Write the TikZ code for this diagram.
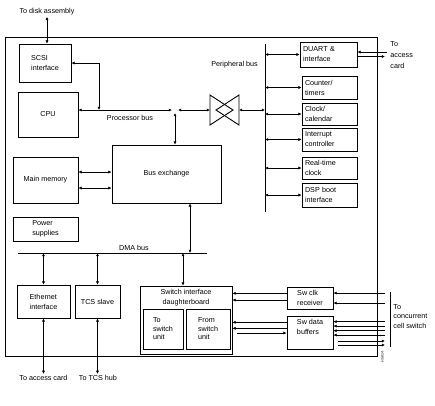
\documentclass[tikz,border=0pt]{standalone}
\usepackage{fontspec}
\setmainfont{Liberation Sans}
\usetikzlibrary{arrows.meta}

\begin{document}
\begin{tikzpicture}[
  x=1pt,y=-1pt,
  line width=0.9pt,
  every node/.style={font=\fontsize{7.2}{10}\selectfont, inner sep=1pt},
  box/.style={draw, align=left, inner sep=2pt},
  pbox/.style={draw, align=left, inner sep=3pt, text width=49pt},
  arr/.style={-{Latex[length=3.2pt,width=3.2pt]}},
  darr/.style={{Latex[length=3.2pt,width=3.2pt]}-{Latex[length=3.2pt,width=3.2pt]}}
]
\useasboundingbox (0,0) rectangle (435,405);
\draw (5,37) rectangle (377,356);

\node[box, minimum width=52pt, minimum height=38pt] (scsi) at (45,63) {SCSI\\interface};
\node[box, minimum width=60pt, minimum height=45pt] (cpu) at (48,114.5) {CPU};
\node[box, minimum width=65pt, minimum height=46pt] (mem) at (45.5,180) {Main memory};
\node[box, minimum width=65pt, minimum height=24pt] (pwr) at (45.5,229) {Power\\supplies};
\node[box, minimum width=109pt, minimum height=58pt] (bx) at (166.5,174) {Bus exchange};
\node[box, minimum width=53pt, minimum height=33pt] (eth) at (43.5,301.5) {Ethernet\\interface};
\node[box, minimum width=45pt, minimum height=33pt] (tcs) at (97.5,301.5) {TCS slave};
\node[draw, minimum width=92pt, minimum height=68pt,
  label={[align=center, anchor=north, yshift=-2pt]north:{Switch interface\\daughterboard}}] (swi) at (186,320) {};
\node[box, minimum width=40pt, minimum height=40pt, font=\fontsize{7.2}{8.5}\selectfont] (tsu) at (163,329) {To\\switch\\unit};
\node[box, minimum width=44pt, minimum height=40pt, font=\fontsize{7.2}{8.5}\selectfont] (fsu) at (208,329) {From\\switch\\unit};
\node[box, minimum width=46pt, minimum height=22pt] (clk) at (310,298) {Sw clk\\receiver};
\node[draw, minimum width=46pt, minimum height=33pt,
  label={[align=left, anchor=north, yshift=-2pt]north:{Sw data\\buffers}}] (dbuf) at (310,332.5) {};

\node[pbox, text width=51pt, minimum height=25pt] (duart) at (328.5,54.5) {DUART \&\\interface};
\node[pbox, minimum height=23pt] (cnt) at (329.5,87.5) {Counter/\\timers};
\node[pbox, minimum height=22pt] (cal) at (329.5,114) {Clock/\\calendar};
\node[pbox, minimum height=23pt] (irq) at (329.5,139.5) {Interrupt\\controller};
\node[pbox, minimum height=22pt] (rtc) at (329.5,168) {Real-time\\clock};
\node[pbox, minimum height=24pt] (dsp) at (329.5,195) {DSP boot\\interface};

\node (disktxt) at (47,12) {To disk assembly};
\node (pbuslbl) at (130,118) {Processor bus};
\node (perlbl) at (234.5,65) {Peripheral bus};
\node (dmalbl) at (134,248) {DMA bus};
\node (acc) at (43.5,378) {To access card};
\node (hub) at (98,378) {To TCS hub};
\node[anchor=north west, align=left, font=\fontsize{7.2}{11}\selectfont] (acctxt) at (389,40) {To\\access\\card};
\node[anchor=north west, align=left, font=\fontsize{7.2}{9.5}\selectfont] (ccs) at (392,303) {To\\concurrent\\cell switch};
\node[rotate=90, font=\fontsize{3.5}{4}\selectfont] (figid) at (382.5,357) {H5814};

\coordinate (jn) at (175,110);
\coordinate (pbj) at (99,110);
\coordinate (bowL) at (210,110);
\coordinate (bowR) at (239,110);
\coordinate (perT) at (265,44);
\coordinate (perB) at (265,212);
\coordinate (dmaL) at (18,253);
\coordinate (dmaR) at (207,253);
\coordinate (ext) at (385,0);
\coordinate (barT) at (390,292);
\coordinate (barB) at (390,347);

% processor side
\draw[darr] (disktxt.south) -- (disktxt.south |- scsi.north);
\draw[darr] (scsi.east) -| (pbj);
\draw[darr] (cpu.east |- jn) -- ([xshift=-3pt]jn);
\draw[darr] ([xshift=3pt]jn) -- (bowL);
\draw[darr] ([yshift=-3pt]jn) -- (jn |- bx.north);
\draw (210,95) -- (233,110) -- (210,125) -- cycle;
\draw (239,95) -- (216,110) -- (239,125) -- cycle;
\draw[darr] (bowR) -- (bowR -| perT);

% peripheral bus
\draw (perT) -- (perB);
\foreach \b in {duart,cnt,cal,irq,rtc,dsp}
  \draw[darr] (\b.west -| perT) -- (\b.west);
\draw[arr] ([xshift=2pt,yshift=2.5pt]duart.east -| ext) -- ([yshift=2.5pt]duart.east);
\draw[arr] ([yshift=-2pt]duart.east) -- ([yshift=-2pt]duart.east -| ext);

\draw[darr] ([yshift=8pt]mem.east) -- ([yshift=8pt]mem.east -| bx.west);
\draw[darr] ([yshift=-8pt]mem.east) -- ([yshift=-8pt]mem.east -| bx.west);

% DMA bus
\draw (dmaL) -- (dmaR);
\draw[darr] ([xshift=23.5pt]bx.south) -- ([xshift=23.5pt]bx.south |- dmaL);
\draw[darr] (eth.north |- dmaL) -- (eth.north);
\draw[darr] (tcs.north |- dmaL) -- (tcs.north);
\draw[darr] ([xshift=-3pt]swi.north |- dmaL) -- ([xshift=-3pt]swi.north);
\draw[darr] (eth.south) -- (acc.north);
\draw[darr] (tcs.south) -- (tcs.south |- hub.north);

% switch side
\foreach \sh in {4.7,-2}
  \draw[arr] ([yshift=\sh pt]clk.west) -- ([yshift=\sh pt]clk.west -| swi.east);
\foreach \sh in {5,-5}
  \draw[arr] ([yshift=\sh pt]clk.east -| ext) -- ([yshift=\sh pt]clk.east);
\foreach \sh in {10.2,4.2}
  \draw[arr] ([yshift=\sh pt]dbuf.west) -- ([yshift=\sh pt]dbuf.west -| swi.east);
\draw[arr] ([xshift=5pt,yshift=-0.5pt]dbuf.west -| swi.east) -- ([yshift=-0.5pt]dbuf.west);
\foreach \sh in {10.8,6.5,1.8,-2.5}
  \draw[arr] ([yshift=\sh pt]dbuf.east -| ext) -- ([yshift=\sh pt]dbuf.east);
\foreach \sh in {-8.5,-12.5}
  \draw[arr] ([xshift=5pt,yshift=\sh pt]dbuf.east) -- ([yshift=\sh pt]dbuf.east -| ext);
\draw (barT) -- (barB);
\end{tikzpicture}
\end{document}
